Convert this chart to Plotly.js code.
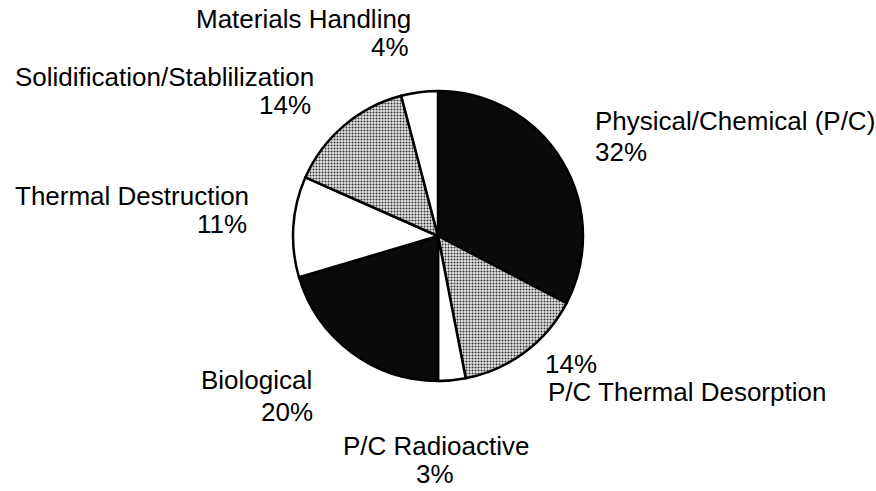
<!DOCTYPE html>
<html>
<head>
<meta charset="utf-8">
<script src="https://cdn.plot.ly/plotly-3.0.1.min.js"></script>
<style>html,body{margin:0;padding:0;background:#fff;}#chart{width:876px;height:491px;}</style>
</head>
<body>
<div id="chart"></div>
<script>
// Data (clockwise from 12 o'clock)
const categories = ["Physical/Chemical (P/C)", "P/C Thermal Desorption", "P/C Radioactive", "Biological", "Thermal Destruction", "Solidification/Stablilization", "Materials Handling"];
const shares = [32, 14, 3, 20, 11, 14, 4];
const shareLabels = ["32%", "14%", "3%", "20%", "11%", "14%", "4%"];

// Styling
const fills = ["#0a0a0a", "#e4e4e4", "#ffffff", "#0a0a0a", "#ffffff", "#e4e4e4", "#ffffff"];
const patternShapes = ["", ".", "", "", "", ".", ""];

const W = 876, H = 491;
const px = x => x / W;
const py = y => 1 - y / H;

// Label placement (pixel positions of text centres): [nameX, nameY, pctX, pctY, xanchor]
const labelPos = [
  [593, 121, 593, 152, "left"],
  [546, 392, 543, 364, "left"],
  [436, 446, 435, 474, "center"],
  [314, 380, 315, 412, "right"],
  [251, 196, 249, 224, "right"],
  [316, 77, 313, 105, "right"],
  [413, 19, 411, 47, "right"]
];

const font = {family: "Liberation Sans, Arial, Helvetica, sans-serif", size: 26, color: "#000"};
const annotations = [];
categories.forEach((c, i) => {
  const p = labelPos[i];
  annotations.push({text: c, x: px(p[0]), y: py(p[1]), xref: "paper", yref: "paper", xanchor: p[4], yanchor: "middle", showarrow: false, font: font});
  annotations.push({text: shareLabels[i], x: px(p[2]), y: py(p[3]), xref: "paper", yref: "paper", xanchor: p[4], yanchor: "middle", showarrow: false, font: font});
});

const trace = {
  type: "pie",
  labels: categories,
  values: shares,
  sort: false,
  direction: "clockwise",
  rotation: 0,
  textinfo: "none",
  hoverinfo: "label+percent",
  showlegend: false,
  domain: {x: [px(293), px(583)], y: [py(381), py(91)]},
  marker: {
    colors: fills,
    line: {color: "#000", width: 2.5},
    pattern: {shape: patternShapes, fgcolor: "#333", bgcolor: "#e4e4e4", size: 3, solidity: 0.35}
  }
};

const layout = {
  width: W, height: H,
  margin: {l: 0, r: 0, t: 0, b: 0},
  paper_bgcolor: "#fff",
  plot_bgcolor: "#fff",
  showlegend: false,
  annotations: annotations
};

Plotly.newPlot("chart", [trace], layout, {displayModeBar: false, staticPlot: true});
</script>
</body>
</html>
